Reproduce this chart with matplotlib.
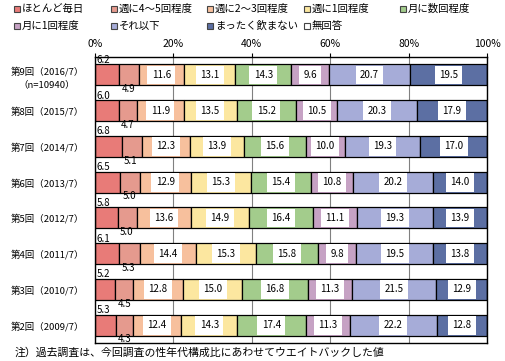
import matplotlib.pyplot as plt
import numpy as np
from matplotlib.patches import Rectangle

plt.rcParams['font.family'] = ['Noto Sans CJK JP', 'DejaVu Sans']

# 調査回
rounds = ['第9回（2016/7）\n（n=10940）', '第8回（2015/7）', '第7回（2014/7）', '第6回（2013/7）',
          '第5回（2012/7）', '第4回（2011/7）', '第3回（2010/7）', '第2回（2009/7）']
cats = ['ほとんど毎日', '週に4～5回程度', '週に2～3回程度', '週に1回程度', '月に数回程度',
        '月に1回程度', 'それ以下', 'まったく飲まない', '無回答']

mainichi = [6.2, 6.0, 6.8, 6.5, 5.8, 6.1, 5.2, 5.3]
shu45 = [4.9, 4.7, 5.1, 5.0, 5.0, 5.3, 4.5, 4.3]
shu23 = [11.6, 11.9, 12.3, 12.9, 13.6, 14.4, 12.8, 12.4]
shu1 = [13.1, 13.5, 13.9, 15.3, 14.9, 15.3, 15.0, 14.3]
tsuki_su = [14.3, 15.2, 15.6, 15.4, 16.4, 15.8, 16.8, 17.4]
tsuki1 = [9.6, 10.5, 10.0, 10.8, 11.1, 9.8, 11.3, 11.3]
sore_ika = [20.7, 20.3, 19.3, 20.2, 19.3, 19.5, 21.5, 22.2]
nomanai = [19.5, 17.9, 17.0, 14.0, 13.9, 13.8, 12.9, 12.8]
mukaitou = [0.1, 0.0, 0.0, 0.0, 0.0, 0.0, 0.0, 0.0]

series = [mainichi, shu45, shu23, shu1, tsuki_su, tsuki1, sore_ika, nomanai, mukaitou]
colors = ['#E87B78', '#E59A8E', '#F7C09D', '#FCE7A0', '#A3CC8C', '#C6A2C4', '#A6ACD8', '#5C6FA3', '#FFFFFF']

fig = plt.figure(figsize=(5.05, 3.61), dpi=100)
ax = fig.add_axes([95/505, 1-343/361, 392/505, 286/361])

y = np.arange(len(rounds))
left = np.zeros(len(rounds))
for k, vals in enumerate(series):
    vals = np.array(vals)
    ax.barh(y, vals, left=left, height=0.59, color=colors[k], edgecolor='black', linewidth=0.9, zorder=2)
    for i in range(len(rounds)):
        v = vals[i]
        if k == 0:
            ax.text(left[i] + 0.4, y[i] - 0.42, f'{v:.1f}', ha='left', va='center', fontsize=7, zorder=4)
        elif k == 1:
            ax.text(left[i] + 0.6, y[i] + 0.40, f'{v:.1f}', ha='left', va='center', fontsize=7, zorder=4)
        elif k < 8:
            ax.text(left[i] + v/2, y[i], f'{v:.1f}', ha='center', va='center', fontsize=7, zorder=4,
                    bbox=dict(boxstyle='square,pad=0.45', fc='white', ec='none'))
    left += vals

ax.set_xlim(0, 100)
ax.set_ylim(len(rounds) - 0.5, -0.5)
ax.set_xticks([0, 20, 40, 60, 80, 100])
ax.set_xticklabels(['0%', '20%', '40%', '60%', '80%', '100%'])
ax.xaxis.tick_top()
ax.tick_params(axis='x', length=3, labelsize=7.5, pad=3)
ax.set_yticks(y)
ax.set_yticklabels(rounds, fontsize=6.8, linespacing=1.6)
for t in ax.get_yticklabels():
    t.set_multialignment('center')
ax.tick_params(axis='y', length=0, pad=8)
ax.xaxis.grid(True, color='#808080', linewidth=0.8, zorder=0)
ax.set_axisbelow(True)
for s in ax.spines.values():
    s.set_color('black')
    s.set_linewidth(1)

# 凡例
for i, c in enumerate(cats):
    col, row = i % 5, i // 5
    x0 = (14 + col * 96.5) / 505
    y0 = 1 - (9 + row * 17) / 361
    fig.add_artist(Rectangle((x0, y0 - 3/361), 6/505, 6/361, transform=fig.transFigure,
                             facecolor=colors[i], edgecolor='#444444', linewidth=0.8))
    fig.text(x0 + 8/505, y0, c, fontsize=7.5, va='center', ha='left')

fig.text(15/505, 1 - 353/361, '注）過去調査は、今回調査の性年代構成比にあわせてウエイトバックした値',
         fontsize=7.8, va='center', ha='left')

fig.savefig('out.png', dpi=100)
